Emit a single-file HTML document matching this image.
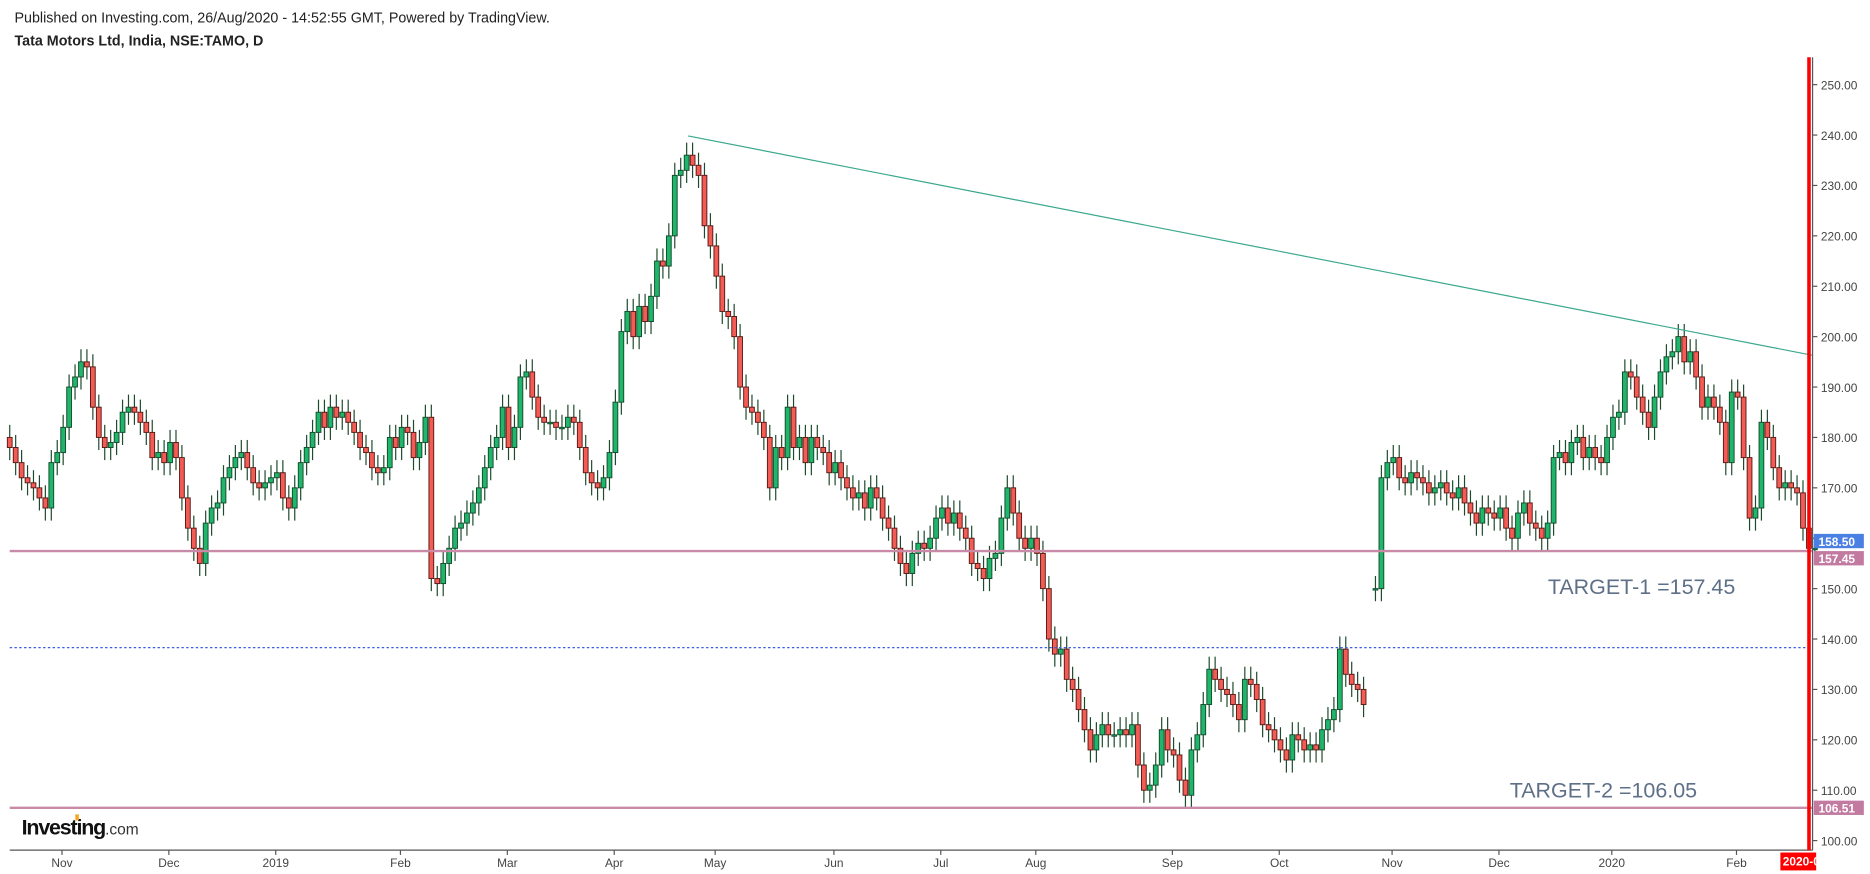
<!DOCTYPE html>
<html><head><meta charset="utf-8"><style>
html,body{margin:0;padding:0;background:#fff;}
svg{display:block;font-family:"Liberation Sans",Arial,sans-serif;}
</style></head><body>
<svg id="chart" width="1870" height="874" viewBox="0 0 1568 733" xmlns="http://www.w3.org/2000/svg">
<rect width="1568" height="733" fill="#fff"/>
<text x="12" y="19" font-size="12" fill="#222">Published on Investing.com, 26/Aug/2020 - 14:52:55 GMT, Powered by TradingView.</text>
<text x="12" y="38" font-size="12" font-weight="bold" fill="#222">Tata Motors Ltd, India, NSE:TAMO, D</text>
<g id="grid"></g>
<g id="candles"></g>
<line x1="577" y1="114" x2="1520" y2="298" stroke="#3aa88e" stroke-width="1"/>
<g id="levels"></g>
<line x1="1520" y1="48" x2="1520" y2="713" stroke="#555" stroke-width="1"/>
<line x1="8" y1="713" x2="1520" y2="713" stroke="#555" stroke-width="1"/>
<line x1="1517" y1="48" x2="1517" y2="713" stroke="#ff0000" stroke-width="3"/>
<g id="yaxis"></g>
<g id="xaxis"></g>
<text x="1298" y="498" font-size="18" fill="#5e7087">TARGET-1 =157.45</text>
<text x="1266" y="669" font-size="18" fill="#5e7087">TARGET-2 =106.05</text>
<g>
<text x="18" y="700" font-size="18" font-weight="bold" fill="#111" letter-spacing="-1">Investing</text>
<text x="88" y="700" font-size="13" fill="#333">.com</text>
<rect x="63" y="683" width="3" height="5" fill="#f5a623"/>
</g>
</svg>
<script>
const closes=[178,175,172,171,170,168,166,175,177,182,190,192,195,194,186,180,178,179,181,185,186,185,183,181,176,177,175,179,176,168,162,158,155,163,166,167,172,174,176,177,174,171,170,171,172,173,168,166,170,175,178,181,185,182,186,184,185,183,181,178,177,174,173,174,180,178,182,181,176,179,184,152,151,155,158,162,163,165,167,170,174,178,180,186,178,182,192,193,188,184,183,183,182,182,184,183,178,173,171,170,172,177,187,201,205,200,206,203,208,215,214,220,232,233,236,234,232,222,218,212,205,204,200,190,186,185,183,180,170,178,176,186,178,180,175,180,178,177,173,175,172,170,168,169,166,170,168,164,162,158,155,153,157,159,158,160,164,166,163,165,162,160,155,154,152,156,157,164,170,165,160,158,160,157,150,140,137,138,132,130,126,122,118,121,123,121,121,122,121,123,115,110,111,115,122,118,117,112,109,118,121,127,134,132,130,129,127,124,132,131,128,123,122,120,118,116,121,120,118,119,118,122,124,126,138,133,131,130,127,null,150,172,175,176,172,171,173,172,171,169,170,171,169,168,170,167,165,163,166,165,164,166,162,160,165,167,163,162,160,163,176,177,175,179,180,176,178,176,175,180,184,185,193,192,188,185,182,188,193,196,197,200,195,197,192,186,188,186,183,175,189,188,176,164,166,183,180,174,170,171,170,169,162,158,158];
const firstOpen=[180];
const yTicks=[250,240,230,220,210,200,190,180,170,160,150,140,130,120,110,100];
const monthLabels=["Nov","Dec","2019","Feb","Mar","Apr","May","Jun","Jul","Aug","Sep","Oct","Nov","Dec","2020","Feb"];
const monthIdx=[9,27,45,66,84,102,119,139,157,173,196,214,233,251,270,291];
const levelValues=[157.45,106.51];
const blueLevel=[138.3];
const NS="http://www.w3.org/2000/svg";
const y=p=>71+(250-p)*634/150;
const xi=i=>8+i*4.98;
function mk(t,a,parent){const e=document.createElementNS(NS,t);for(const k in a)e.setAttribute(k,a[k]);parent.appendChild(e);return e;}
const cg=document.getElementById('candles');
let prev=firstOpen[0];
closes.forEach((c,i)=>{
  if(c===null){prev=null;return;}
  let o=prev===null?150:prev;
  const up=c>=o;const hi=Math.max(o,c)+2.5,lo=Math.min(o,c)-2.5;
  const x=xi(i);
  const g=mk('g',{},cg);
  
  
  mk('line',{x1:x,x2:x,y1:y(hi),y2:y(lo),stroke:'#1c4a2a','stroke-width':1},g);
  const top=y(Math.max(o,c)),h=Math.max(1.2,y(Math.min(o,c))-top);
  mk('rect',{x:x-2,y:top,width:4,height:h,fill:up?'#1fb56a':'#f25c54',stroke:up?'#134d2c':'#5a1a16','stroke-width':0.8},g);
  prev=c;
});
const lv=document.getElementById('levels');
const blue=mk('line',{x1:8,x2:1520,y1:y(blueLevel[0]),y2:y(blueLevel[0]),stroke:'#3a5ee0','stroke-width':1,'stroke-dasharray':'2,2'},lv);


levelValues.forEach(v=>{
  const l=mk('line',{x1:8,x2:1520,y1:y(v),y2:y(v),stroke:'#c98aa8','stroke-width':2},lv);
  
  
});
const ya=document.getElementById('yaxis');
yTicks.forEach(v=>{
  mk('line',{x1:1520,x2:1524,y1:y(v),y2:y(v),stroke:'#555'},ya);
  const t=mk('text',{x:1527,y:y(v)+4,'font-size':10,fill:'#444'},ya);t.textContent=v.toFixed(2);
  
  
});
function tag(v,txt,fill,dy){
  const g=mk('g',{},ya);
  
  
  mk('rect',{x:1521,y:y(v)-6+dy,width:42,height:12,fill:fill},g);
  const t=mk('text',{x:1525,y:y(v)+4+dy,'font-size':10,'font-weight':'bold',fill:'#fff'},g);t.textContent=txt;
}
tag(158.5,'158.50','#4a7fe3',-4);
tag(157.45,'157.45','#c27aa0',6);
tag(106.51,'106.51','#c27aa0',0);
const xa=document.getElementById('xaxis');
monthLabels.forEach((m,k)=>{
  const x=xi(monthIdx[k])-1;
  mk('line',{x1:x,x2:x,y1:713,y2:717,stroke:'#555'},xa);
  const t=mk('text',{x:x,y:727,'font-size':10,fill:'#444','text-anchor':'middle'},xa);t.textContent=m;
  
  
});
const dt=mk('g',{},xa);


mk('rect',{x:1493,y:715,width:30,height:15,fill:'#ff0000'},dt);
const dtt=mk('text',{x:1495,y:726,'font-size':10,'font-weight':'bold',fill:'#fff'},dt);dtt.textContent='2020-0';
</script>
</body></html>
